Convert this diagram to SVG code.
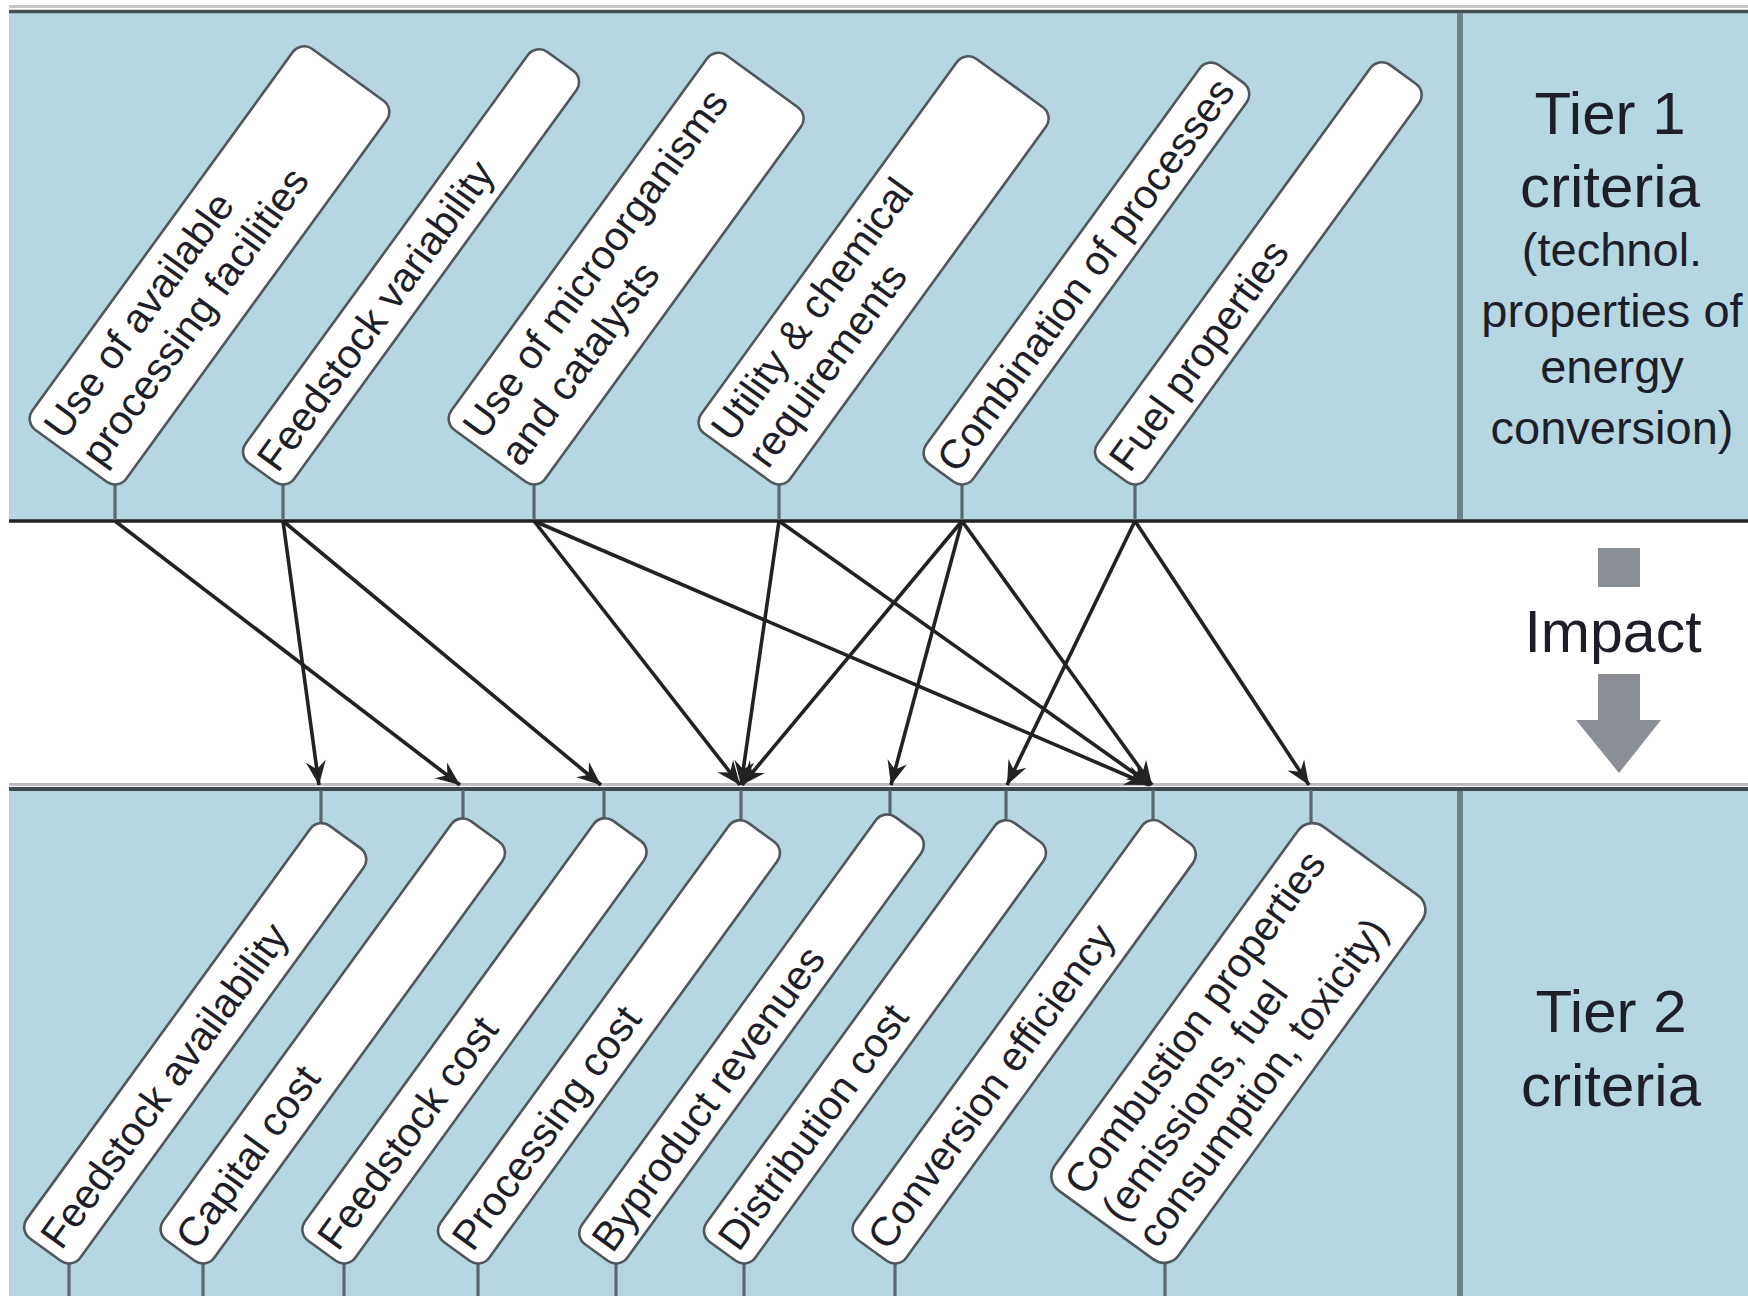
<svg xmlns="http://www.w3.org/2000/svg" width="1748" height="1296" viewBox="0 0 1748 1296">
<style>
.band{fill:#b6d7e2}
.box{fill:#ffffff;stroke:#50575b;stroke-width:2.6}
.lbl{font-family:"Liberation Sans",Arial,sans-serif;font-size:41px;fill:#1e1e28}
.tier{font-family:"Liberation Sans",Arial,sans-serif;fill:#1e1e28;text-anchor:middle}
.stem{stroke:#5a676d;stroke-width:3.2}
.conn{stroke:#222222;stroke-width:3.6;fill:none;marker-end:url(#ah)}
</style>
<defs>
<marker id="ah" markerUnits="userSpaceOnUse" viewBox="-26 -12 28 24" refX="0" refY="0" markerWidth="28" markerHeight="24" orient="auto">
<path d="M0,0 L-24,-10 L-16,0 L-24,10 Z" fill="#222222"/>
</marker>
</defs>
<rect width="1748" height="1296" fill="#ffffff"/>
<g id="panels">
<rect class="band" x="9" y="12" width="1739" height="508"/>
<rect class="band" x="9" y="789" width="1739" height="507"/>
<line x1="9" y1="6.5" x2="1748" y2="6.5" stroke="#c6c6c6" stroke-width="3"/>
<line x1="9" y1="11.5" x2="1748" y2="11.5" stroke="#464e52" stroke-width="3.5"/>
<line x1="9" y1="521" x2="1748" y2="521" stroke="#222222" stroke-width="3.5"/>
<line x1="9" y1="784.5" x2="1748" y2="784.5" stroke="#bdbdbd" stroke-width="3"/>
<line x1="9" y1="789" x2="1748" y2="789" stroke="#3f484c" stroke-width="4"/>
<line x1="1460" y1="13" x2="1460" y2="519" stroke="#6e8087" stroke-width="6"/>
<line x1="1460" y1="791" x2="1460" y2="1296" stroke="#6e8087" stroke-width="6"/>
</g>
<g id="tier1-title">
<text class="tier" x="1610" y="134" font-size="60">Tier 1</text>
<text class="tier" x="1610" y="207" font-size="60">criteria</text>
<text class="tier" x="1612" y="266" font-size="47">(technol.</text>
<text class="tier" x="1612" y="327" font-size="47">properties of</text>
<text class="tier" x="1612" y="383" font-size="47">energy</text>
<text class="tier" x="1612" y="444" font-size="47">conversion)</text>
</g>
<g id="impact">
<rect x="1598" y="548" width="42" height="39" fill="#898f95"/>
<text class="tier" x="1613" y="652" font-size="59">Impact</text>
<polygon points="1598,674 1640,674 1640,720 1661,720 1619,773 1576,720 1598,720" fill="#898f95"/>
</g>
<g id="tier2-title">
<text class="tier" x="1611" y="1032" font-size="60">Tier 2</text>
<text class="tier" x="1611" y="1106" font-size="60">criteria</text>
</g>
<g id="stems">
<line class="stem" x1="115" y1="480" x2="115" y2="520"/>
<line class="stem" x1="283" y1="480" x2="283" y2="520"/>
<line class="stem" x1="534" y1="480" x2="534" y2="520"/>
<line class="stem" x1="779" y1="480" x2="779" y2="520"/>
<line class="stem" x1="962" y1="480" x2="962" y2="520"/>
<line class="stem" x1="1135" y1="480" x2="1135" y2="520"/>
<line class="stem" x1="321" y1="790" x2="321" y2="828"/>
<line class="stem" x1="463" y1="790" x2="463" y2="824"/>
<line class="stem" x1="604" y1="790" x2="604" y2="824"/>
<line class="stem" x1="741" y1="790" x2="741" y2="826"/>
<line class="stem" x1="890" y1="790" x2="890" y2="822"/>
<line class="stem" x1="1006" y1="790" x2="1006" y2="825"/>
<line class="stem" x1="1153" y1="790" x2="1153" y2="825"/>
<line class="stem" x1="1311" y1="790" x2="1311" y2="826"/>
<line class="stem" x1="69" y1="1258" x2="69" y2="1296"/>
<line class="stem" x1="203" y1="1258" x2="203" y2="1296"/>
<line class="stem" x1="344" y1="1258" x2="344" y2="1296"/>
<line class="stem" x1="478" y1="1258" x2="478" y2="1296"/>
<line class="stem" x1="616" y1="1258" x2="616" y2="1296"/>
<line class="stem" x1="744" y1="1258" x2="744" y2="1296"/>
<line class="stem" x1="895" y1="1258" x2="895" y2="1296"/>
<line class="stem" x1="1165" y1="1258" x2="1165" y2="1296"/>
</g>
<g id="t1-facilities" transform="translate(118,490) rotate(-54)">
<rect class="box" x="0" y="-116" width="471" height="116" rx="14"/>
<text class="lbl" x="8" y="-72">Use of available</text>
<text class="lbl" x="8" y="-26">processing facilities</text>
</g>
<g id="t1-variability" transform="translate(286,490) rotate(-54)">
<rect class="box" x="0" y="-60" width="508" height="60" rx="14"/>
<text class="lbl" x="8" y="-16">Feedstock variability</text>
</g>
<g id="t1-microorganisms" transform="translate(537,490) rotate(-54)">
<rect class="box" x="0" y="-116" width="463" height="116" rx="14"/>
<text class="lbl" x="8" y="-72">Use of microorganisms</text>
<text class="lbl" x="8" y="-26">and catalysts</text>
</g>
<g id="t1-utility" transform="translate(782,490) rotate(-54)">
<rect class="box" x="0" y="-110" width="463" height="110" rx="14"/>
<text class="lbl" x="8" y="-68">Utility &amp; chemical</text>
<text class="lbl" x="8" y="-23">requirements</text>
</g>
<g id="t1-combination" transform="translate(965,490) rotate(-54)">
<rect class="box" x="0" y="-58" width="493" height="58" rx="14"/>
<text class="lbl" x="8" y="-15">Combination of processes</text>
</g>
<g id="t1-fuel" transform="translate(1138,490) rotate(-54)">
<rect class="box" x="0" y="-60" width="492" height="60" rx="14"/>
<text class="lbl" x="8" y="-16">Fuel properties</text>
</g>
<g id="t2-availability" transform="translate(72,1269) rotate(-54)">
<rect class="box" x="0" y="-66" width="510" height="66" rx="14"/>
<text class="lbl" x="8" y="-19">Feedstock availability</text>
</g>
<g id="t2-capital" transform="translate(206,1269) rotate(-54)">
<rect class="box" x="0" y="-63" width="518" height="63" rx="14"/>
<text class="lbl" x="8" y="-18">Capital cost</text>
</g>
<g id="t2-feedcost" transform="translate(347,1269) rotate(-54)">
<rect class="box" x="0" y="-62" width="519" height="62" rx="14"/>
<text class="lbl" x="8" y="-17">Feedstock cost</text>
</g>
<g id="t2-processing" transform="translate(481,1269) rotate(-54)">
<rect class="box" x="0" y="-60" width="518" height="60" rx="14"/>
<text class="lbl" x="8" y="-16">Processing cost</text>
</g>
<g id="t2-byproduct" transform="translate(619,1269) rotate(-54)">
<rect class="box" x="0" y="-56" width="528" height="56" rx="14"/>
<text class="lbl" x="8" y="-14">Byproduct revenues</text>
</g>
<g id="t2-distribution" transform="translate(747,1269) rotate(-54)">
<rect class="box" x="0" y="-60" width="518" height="60" rx="14"/>
<text class="lbl" x="8" y="-16">Distribution cost</text>
</g>
<g id="t2-conversion" transform="translate(898,1269) rotate(-54)">
<rect class="box" x="0" y="-63" width="516" height="63" rx="14"/>
<text class="lbl" x="8" y="-18">Conversion efficiency</text>
</g>
<g id="t2-combustion" transform="translate(1168,1270) rotate(-54)">
<rect class="box" x="0" y="-153" width="450" height="153" rx="18"/>
<text class="lbl" x="10" y="-110">Combustion properties</text>
<text class="lbl" x="10" y="-64">(emissions, fuel</text>
<text class="lbl" x="10" y="-20">consumption, toxicity)</text>
</g>
<g id="connectors">
<line class="conn" x1="115" y1="521" x2="460" y2="785"/>
<line class="conn" x1="283" y1="521" x2="319" y2="785"/>
<line class="conn" x1="283" y1="521" x2="601" y2="785"/>
<line class="conn" x1="534" y1="521" x2="740" y2="785"/>
<line class="conn" x1="534" y1="521" x2="1149" y2="785"/>
<line class="conn" x1="779" y1="521" x2="741" y2="785"/>
<line class="conn" x1="779" y1="521" x2="1151" y2="785"/>
<line class="conn" x1="962" y1="521" x2="742" y2="785"/>
<line class="conn" x1="962" y1="521" x2="891" y2="785"/>
<line class="conn" x1="962" y1="521" x2="1152" y2="785"/>
<line class="conn" x1="1135" y1="521" x2="1007" y2="785"/>
<line class="conn" x1="1135" y1="521" x2="1309" y2="785"/>
</g>
</svg>
